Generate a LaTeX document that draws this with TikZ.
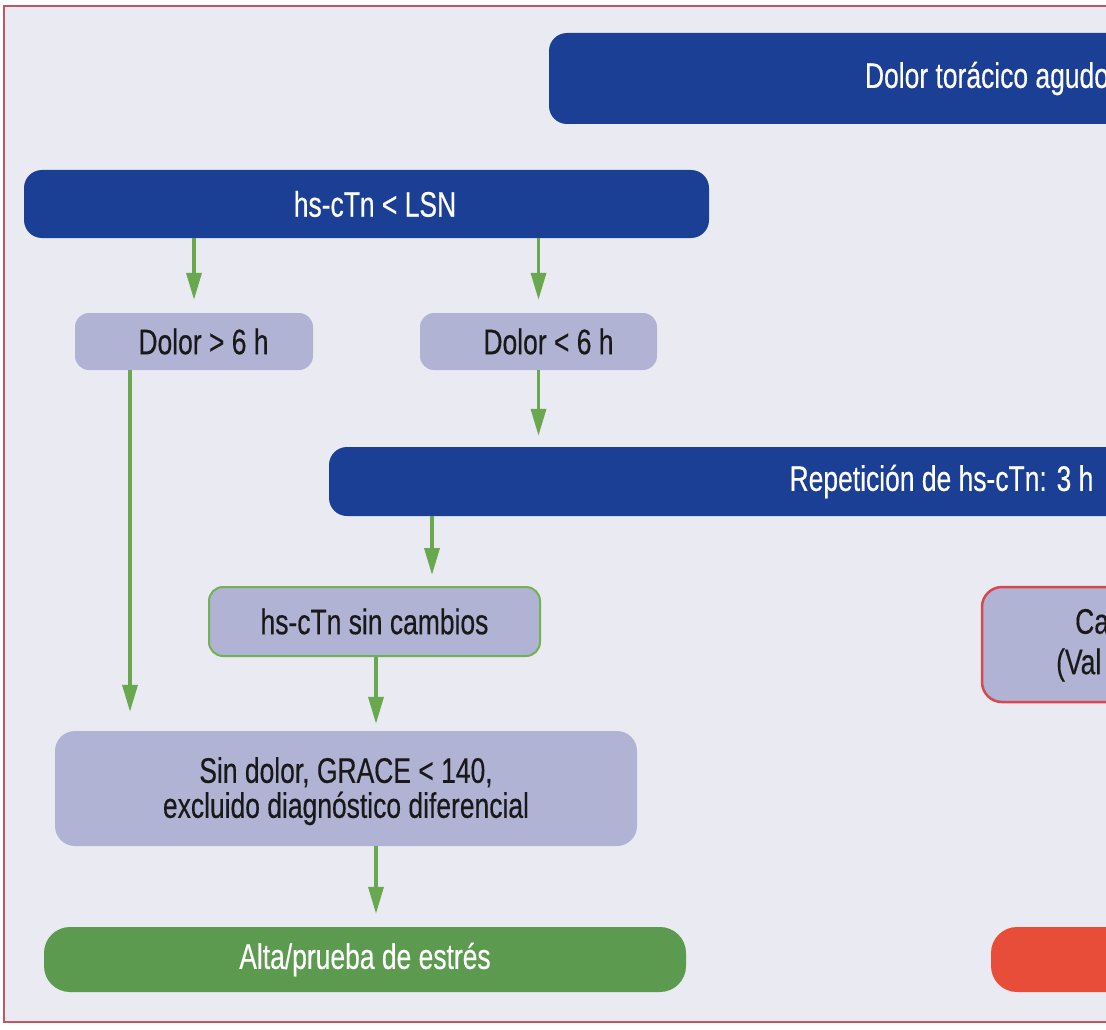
\documentclass[tikz,border=0pt]{standalone}
\usepackage{fontspec}
\setmainfont{Liberation Sans}[FakeStretch=0.745,FakeBold=0.35]
\usetikzlibrary{arrows.meta,calc}
\definecolor{bgcol}{RGB}{233,234,242}
\definecolor{framecol}{RGB}{196,86,96}
\definecolor{darkblue}{RGB}{27,63,148}
\definecolor{lightpurple}{RGB}{176,179,212}
\definecolor{arrgreen}{RGB}{106,168,79}
\definecolor{altagreen}{RGB}{91,154,79}
\definecolor{boxgreen}{RGB}{116,176,84}
\definecolor{boxred}{RGB}{217,71,79}
\definecolor{fillred}{RGB}{232,77,57}
\tikzset{
  box/.style={rectangle, inner sep=0pt, align=center, font=\fontsize{35.5}{35}\selectfont},
  bluebox/.style={box, fill=darkblue, text=white, rounded corners=18pt},
  lightbox/.style={box, fill=lightpurple, text=black!90, rounded corners=14pt},
  arr/.style={draw=arrgreen, line width=3.5pt, -{Triangle[length=27pt,width=15pt]}},
  txt/.style={inner sep=0pt, font=\fontsize{35.5}{35}\selectfont, text=black!90}
}
\begin{document}
\begin{tikzpicture}[x=1pt,y=-1pt]
\useasboundingbox (0,0) rectangle (1106,1030);
\clip (0,0) rectangle (1106,1030);
\draw[framecol, line width=2pt, fill=bgcol] (4,6) rectangle (1250,1022);

\node[bluebox, minimum width=876pt, minimum height=91pt] (top) at (987,78.5) {Dolor torácico agudo};
\node[bluebox, minimum width=685pt, minimum height=68pt] (lsn) at (366.5,204) {\hspace*{17pt}hs-cTn < LSN};
\node[lightbox, minimum width=238pt, minimum height=57pt] (dmas) at (194,341.5) {\hspace*{19pt}Dolor > 6 h};
\node[lightbox, minimum width=237pt, minimum height=57pt] (dmenos) at (538.5,341.5) {\hspace*{20pt}Dolor < 6 h};
\node[bluebox, minimum width=1225pt, minimum height=69pt] (rep) at (941.5,481.5) {Repetición de hs-cTn: 3 h};
\node[lightbox, draw=boxgreen, line width=2pt, minimum width=331pt, minimum height=69pt] (sinc) at (374.5,621.5) {hs-cTn sin cambios};
\node[lightbox, draw=boxred, line width=2.5pt, rounded corners=20pt, minimum width=318pt, minimum height=115pt] (redbox) at (1141,644.5) {};
\node[txt, anchor=west] (redA) at (1075,621.5) {Ca};
\node[txt, anchor=west] (redB) at (1056,665) {(Val};
\node[lightbox, rounded corners=20pt, minimum width=582pt, minimum height=115pt] (sind) at (346,788.5) {\rule{0pt}{31pt}Sin dolor, GRACE < 140,\\excluido diagnóstico diferencial};
\node[box, fill=altagreen, text=white, rounded corners=26pt, minimum width=642pt, minimum height=65pt] (alta) at (365,959.5) {Alta/prueba de estrés};
\node[box, fill=fillred, rounded corners=26pt, minimum width=318pt, minimum height=65pt] (redbot) at (1150,959.5) {};

\draw[arr, shorten >=13pt] (lsn.south -| dmas.north) -- (dmas.north);
\draw[arr, shorten >=13pt] (lsn.south -| dmenos.north) -- (dmenos.north);
\draw[arr, shorten >=11pt] (dmenos.south) -- (dmenos.south |- rep.north);
\coordinate (a1) at ([xshift=-64pt]dmas.south);
\draw[arr, shorten >=19pt] (a1) -- (a1 |- sind.north);
\coordinate (a2) at ([xshift=57.5pt]sinc.north);
\draw[arr, shorten >=11pt] (a2 |- rep.south) -- (a2);
\coordinate (a3) at ([xshift=1.5pt]sinc.south);
\draw[arr, shorten >=7pt] (a3) -- (a3 |- sind.north);
\coordinate (a4) at ([xshift=30pt]sind.south);
\draw[arr, shorten >=13pt] (a4) -- (a4 |- alta.north);
\end{tikzpicture}
\end{document}
